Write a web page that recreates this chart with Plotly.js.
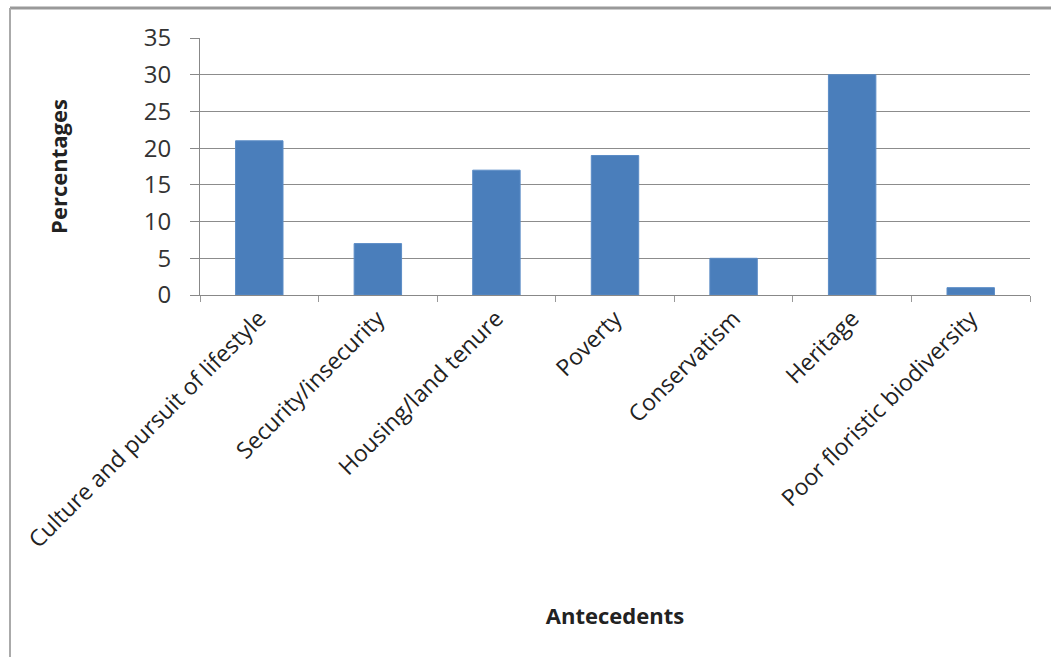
<!DOCTYPE html>
<html>
<head>
<meta charset="utf-8">
<script src="https://cdn.plot.ly/plotly-3.0.1.min.js"></script>
<style>
  html, body { margin: 0; padding: 0; background: #fff; }
  #chart { width: 1051px; height: 657px; }
</style>
</head>
<body>
<div id="chart"></div>
<script>
const categories = [
  "Culture and pursuit of lifestyle",
  "Security/insecurity",
  "Housing/land tenure",
  "Poverty",
  "Conservatism",
  "Heritage",
  "Poor floristic biodiversity"
];
const percentages = [21, 7, 17, 19, 5, 30, 1];
const yTicks = [0, 5, 10, 15, 20, 25, 30, 35];

const trace = {
  type: 'bar',
  x: categories,
  y: percentages,
  marker: { color: '#4A7EBB', line: { color: '#5B8CC6', width: 1 } },
  hoverinfo: 'x+y'
};

const layout = {
  width: 1051,
  height: 657,
  margin: { l: 200, r: 21, t: 38, b: 362 },
  paper_bgcolor: '#ffffff',
  plot_bgcolor: '#ffffff',
  showlegend: false,
  bargap: 0.6,
  font: { family: 'Open Sans, Arial, sans-serif', color: '#222' },
  xaxis: {
    type: 'category',
    tickangle: -45,
    tickson: 'boundaries',
    ticks: 'outside',
    ticklen: 6,
    tickcolor: '#999',
    showgrid: false,
    showline: true,
    linecolor: '#888',
    linewidth: 1,
    tickfont: { family: 'Open Sans, Arial, sans-serif', size: 23, color: '#222' },
    automargin: false,
    title: { text: 'Antecedents', font: { family: 'Open Sans, Arial, sans-serif', size: 22, color: '#222', weight: 'bold' }, standoff: 55 }
  },
  yaxis: {
    range: [0, 35],
    tickvals: yTicks,
    ticktext: yTicks.map(String),
    ticks: 'outside',
    ticklen: 9,
    tickcolor: '#888',
    ticklabelstandoff: 14,
    showgrid: true,
    gridcolor: '#8c8c8c',
    gridwidth: 1,
    showline: true,
    linecolor: '#888',
    zeroline: false,
    tickfont: { family: 'Open Sans, Arial, sans-serif', size: 24, color: '#333' },
    automargin: false,
    title: { text: 'Percentages', font: { family: 'Open Sans, Arial, sans-serif', size: 22, color: '#222', weight: 'bold' }, standoff: 70 }
  },
  shapes: [
    { type: 'line', xref: 'paper', yref: 'paper', x0: (10 - 200) / 830, x1: (1051 - 200) / 830, y0: (295 - 8) / 257, y1: (295 - 8) / 257, line: { color: '#999', width: 3 } },
    { type: 'line', xref: 'paper', yref: 'paper', x0: (10 - 200) / 830, x1: (10 - 200) / 830, y0: (295 - 8) / 257, y1: (295 - 660) / 257, line: { color: '#aaa', width: 2 } }
  ]
};

Plotly.newPlot('chart', [trace], layout, { displayModeBar: false, staticPlot: true });
</script>
</body>
</html>
